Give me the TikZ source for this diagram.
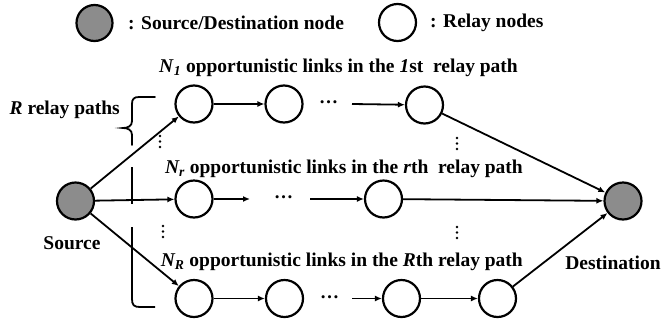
\documentclass[tikz,border=0pt]{standalone}
\usepackage{fontspec}
\setmainfont{Liberation Serif}
\usetikzlibrary{arrows.meta}
\definecolor{sdgray}{HTML}{8C8C8C}
\tikzset{
  relay/.style={circle, draw=black, line width=2.2pt, fill=white, minimum size=37pt, inner sep=0pt},
  sdnode/.style={relay, fill=sdgray},
  link/.style={line width=1.8pt, -{Latex[length=7pt,width=6pt]}},
  plainline/.style={line width=1.8pt},
  lbl/.style={font=\bfseries\fontsize{19.5}{22}\selectfont, inner sep=0pt},
  leg/.style={font=\bfseries\fontsize{19.5}{22}\selectfont, inner sep=0pt},
  dotsnode/.style={font=\bfseries\fontsize{19}{20}\selectfont, inner sep=0pt},
}
\begin{document}
\begin{tikzpicture}[x=1pt,y=-1pt]
\useasboundingbox (0,0) rectangle (661,322);
% legend
\node[sdnode, minimum size=36pt] (lg) at (94.5,23) {};
\node[leg, anchor=west] (lgt) at (128,23) {: Source/Destination node};
\node[relay, minimum size=37pt] (lr) at (397.5,22.5) {};
\node[leg, anchor=west] (lrt) at (430,22.5) {: Relay nodes};
% main nodes
\node[sdnode] (S) at (75.5,201) {};
\node[sdnode] (D) at (623,201) {};
\node[relay] (a1) at (194,104) {};
\node[relay] (a2) at (284,104) {};
\node[relay] (a3) at (424.5,105) {};
\node[relay] (b1) at (194,199) {};
\node[relay] (b2) at (383.5,199) {};
\node[relay] (c1) at (194,298.5) {};
\node[relay] (c2) at (284.5,298.5) {};
\node[relay] (c3) at (401.5,298.5) {};
\node[relay] (c4) at (497.5,298.5) {};
% free ends
\coordinate (a2e) at (352,104);
\coordinate (b1e) at (250,199);
\coordinate (b2s) at (310,199);
\coordinate (c2e) at (352,298.5);
% dots
\node[dotsnode, anchor=base] (d1) at (328.5,103) {…};
\node[dotsnode, anchor=base] (d2) at (283.5,198.5) {…};
\node[dotsnode, anchor=base] (d3) at (329.5,298) {…};
% links
\draw[link] (S) -- (a1);
\draw[link] (S) -- (b1);
\draw[link] (S) -- (c1);
\draw[link] (a1) -- (a2);
\draw[link] (a2e) -- (a3);
\draw[link] (b1) -- (b1e);
\draw[link] (b2s) -- (b2);
\draw[link] (c1) -- (c2);
\draw[link] (c2e) -- (c3);
\draw[link] (c3) -- (c4);
\draw[link] (a3) -- (D);
\draw[link] (b2) -- (D);
\draw[link] (c4) -- (D);
% brace
\draw[plainline, line cap=round] (155,97) -- (139,97) .. controls (134,97) and (132,99) .. (132,104) -- (132,121) .. controls (132,126) and (128,128) .. (123,128) .. controls (128,128) and (132,130) .. (132,135) -- (132,145);
\draw[plainline] (132,167) -- (132,204);
\draw[plainline] (132,227) -- (132,299) .. controls (132,305) and (134,307) .. (140,307) -- (155,307);
% vertical dots
\foreach \x/\y in {160/136, 163/226, 457/138, 457/227} {
  \fill (\x,\y) circle (1.4pt);
  \fill (\x,\y+5.5) circle (1.4pt);
  \fill (\x,\y+11) circle (1.4pt);
}
% labels
\node[lbl, anchor=east] (rp) at (120,110) {\textit{R} relay paths};
\node[lbl, anchor=east] (l1) at (518,68) {\textit{N}\textsubscript{\textit{1}} opportunistic links in the \textit{1}st\ \ relay path};
\node[lbl, anchor=east] (lr2) at (523,169) {\textit{N\textsubscript{r}} opportunistic links in the \textit{r}th\ \ relay path};
\node[lbl, anchor=east] (lR) at (523,262) {\textit{N\textsubscript{R}} opportunistic links in the \textit{R}th relay path};
\node[lbl] (src) at (72,243) {Source};
\node[lbl] (dst) at (613,263) {Destination};
\end{tikzpicture}
\end{document}
